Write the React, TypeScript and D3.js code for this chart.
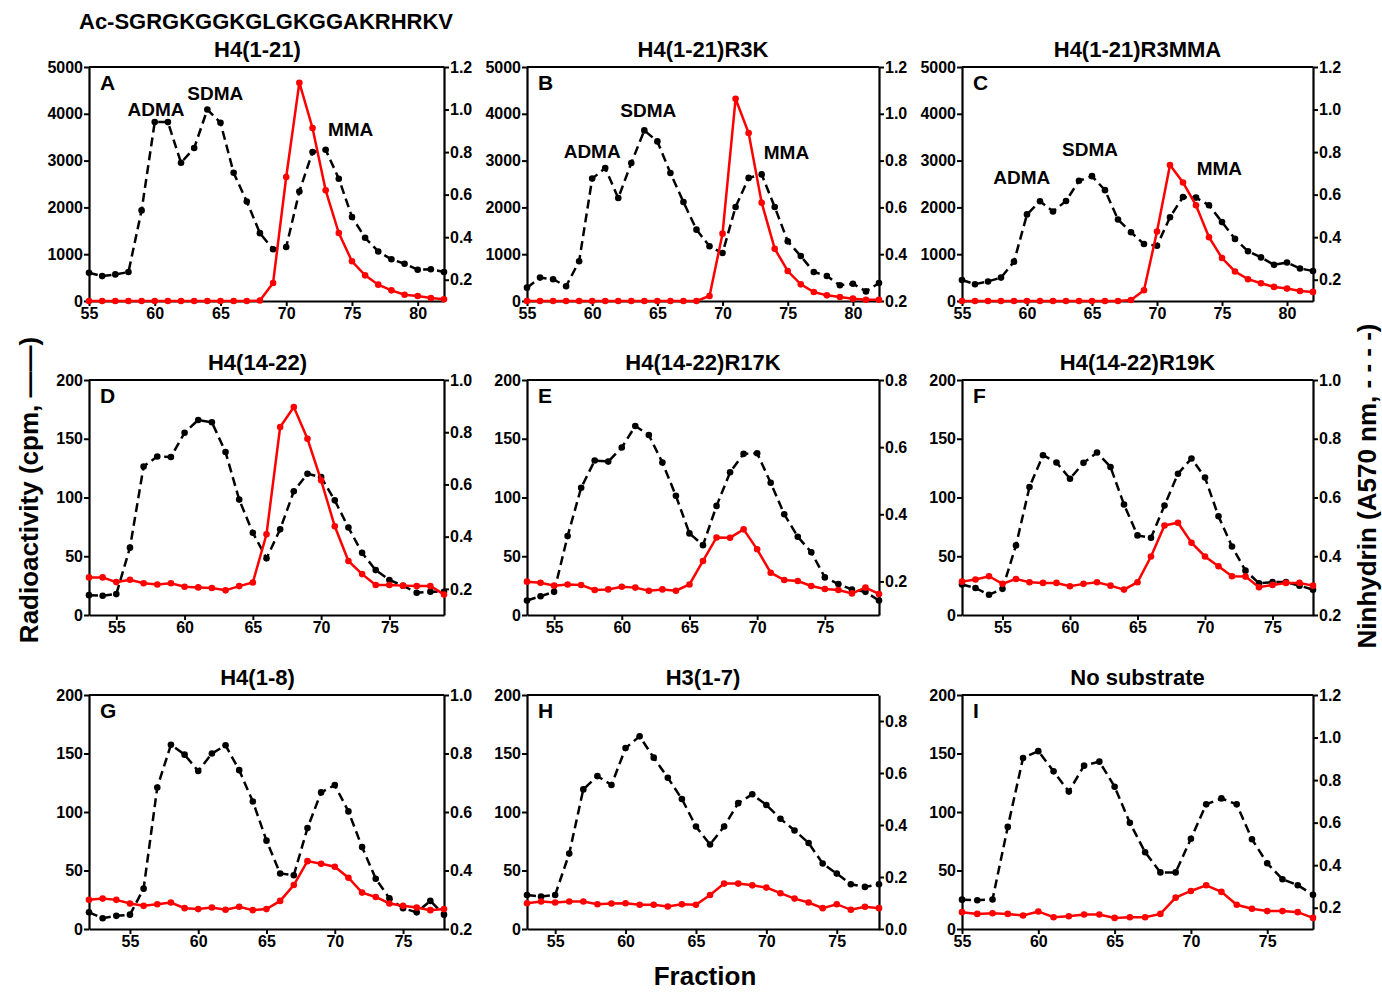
import React, { Component } from 'react';
import * as d3 from 'd3';

// fraction numbers (x)
const fractions55to82 = [55, 56, 57, 58, 59, 60, 61, 62, 63, 64, 65, 66, 67, 68, 69, 70, 71, 72, 73, 74, 75, 76, 77, 78, 79, 80, 81, 82];
const fractions53to79 = [53, 54, 55, 56, 57, 58, 59, 60, 61, 62, 63, 64, 65, 66, 67, 68, 69, 70, 71, 72, 73, 74, 75, 76, 77, 78, 79];
const fractions52to78 = [52, 53, 54, 55, 56, 57, 58, 59, 60, 61, 62, 63, 64, 65, 66, 67, 68, 69, 70, 71, 72, 73, 74, 75, 76, 77, 78];
const fractions53to78 = [53, 54, 55, 56, 57, 58, 59, 60, 61, 62, 63, 64, 65, 66, 67, 68, 69, 70, 71, 72, 73, 74, 75, 76, 77, 78];
const fractions55to78 = [55, 56, 57, 58, 59, 60, 61, 62, 63, 64, 65, 66, 67, 68, 69, 70, 71, 72, 73, 74, 75, 76, 77, 78];

// radioactivity (cpm, red solid) and ninhydrin (A570, black dashed)
const cpmA = [0, 0, 0, 0, 0, 0, 0, 0, 0, 0, 0, 0, 0, 10, 385, 2650, 4665, 3697, 2365, 1453, 848, 548, 349, 228, 135, 107, 64, 36];
const ninA = [0.233, 0.217, 0.225, 0.236, 0.526, 0.941, 0.941, 0.75, 0.819, 1.0, 0.938, 0.703, 0.568, 0.419, 0.343, 0.354, 0.615, 0.8, 0.811, 0.675, 0.495, 0.397, 0.333, 0.296, 0.275, 0.247, 0.249, 0.236];
const cpmB = [0, 0, 0, 0, 0, 0, 0, 0, 0, 0, 0, 0, 0, 0, 107, 1439, 4323, 3590, 2101, 1118, 641, 356, 192, 121, 85, 50, 28, 28];
const ninB = [0.257, 0.3, 0.293, 0.263, 0.37, 0.723, 0.768, 0.64, 0.79, 0.929, 0.882, 0.747, 0.623, 0.505, 0.434, 0.405, 0.602, 0.726, 0.741, 0.602, 0.455, 0.392, 0.324, 0.307, 0.267, 0.274, 0.241, 0.277];
const cpmC = [0, 0, 0, 0, 0, 0, 0, 0, 0, 0, 0, 0, 0, 20, 230, 1485, 2905, 2532, 2044, 1363, 918, 631, 466, 380, 301, 265, 215, 194];
const ninC = [0.199, 0.179, 0.192, 0.21, 0.285, 0.507, 0.569, 0.521, 0.57, 0.665, 0.687, 0.621, 0.483, 0.423, 0.368, 0.36, 0.494, 0.589, 0.586, 0.55, 0.471, 0.392, 0.334, 0.305, 0.27, 0.281, 0.253, 0.241];
const cpmD = [32, 32, 28, 30, 27, 26, 27, 24, 23.5, 23, 21, 24.6, 27.7, 68.7, 160, 177, 150, 114.6, 75.5, 46, 34.8, 25.5, 25.5, 25, 24.6, 24.6, 17.5];
const ninD = [0.176, 0.174, 0.18, 0.358, 0.669, 0.707, 0.705, 0.798, 0.847, 0.838, 0.724, 0.542, 0.415, 0.317, 0.428, 0.574, 0.641, 0.628, 0.539, 0.435, 0.338, 0.272, 0.234, 0.212, 0.185, 0.189, 0.189];
const cpmE = [28.4, 27.5, 25, 26, 25.5, 21.3, 21.8, 24.1, 23.3, 20.7, 21.8, 20.7, 26, 46, 66, 65.8, 72.9, 55.9, 36, 29.8, 28.9, 24.7, 22.1, 21.3, 18.4, 23.3, 17.9];
const ninE = [0.143, 0.156, 0.169, 0.335, 0.479, 0.56, 0.557, 0.599, 0.663, 0.636, 0.554, 0.455, 0.343, 0.308, 0.425, 0.525, 0.58, 0.582, 0.494, 0.4, 0.333, 0.287, 0.212, 0.192, 0.176, 0.169, 0.143];
const cpmF = [28.4, 30.2, 33, 26.5, 30.7, 27.9, 27.3, 27.3, 24.5, 26.5, 27.9, 25, 21.6, 27.9, 49.8, 76.2, 78.5, 61.5, 49.8, 41.5, 33, 32.7, 23.6, 25.6, 27.3, 27.3, 25];
const ninF = [0.304, 0.292, 0.269, 0.289, 0.437, 0.636, 0.744, 0.719, 0.664, 0.718, 0.753, 0.704, 0.576, 0.471, 0.463, 0.573, 0.681, 0.733, 0.668, 0.536, 0.433, 0.351, 0.308, 0.312, 0.312, 0.3, 0.286];
const cpmG = [24.9, 26, 24.9, 21.8, 19.8, 21.2, 22.6, 17.8, 17, 18.4, 16.4, 19, 16.1, 17, 24, 37.6, 58, 55.7, 53.2, 43.8, 31.1, 27.4, 21.8, 19.8, 18.4, 16.1, 17];
const ninG = [0.257, 0.237, 0.245, 0.249, 0.338, 0.684, 0.83, 0.796, 0.74, 0.8, 0.828, 0.743, 0.636, 0.502, 0.39, 0.384, 0.545, 0.667, 0.692, 0.602, 0.48, 0.372, 0.305, 0.271, 0.257, 0.296, 0.249];
const cpmH = [22, 23.5, 22.6, 23.5, 23.5, 21.2, 21.8, 22, 20.7, 20.7, 19.2, 21.2, 20.7, 29.1, 38.8, 38.8, 37.3, 35.4, 30.6, 26, 22.6, 17.8, 21.2, 16.4, 19, 17.8];
const ninH = [0.131, 0.125, 0.131, 0.29, 0.537, 0.588, 0.554, 0.696, 0.741, 0.659, 0.582, 0.5, 0.394, 0.325, 0.394, 0.484, 0.518, 0.477, 0.424, 0.379, 0.331, 0.252, 0.213, 0.172, 0.162, 0.172];
const cpmI = [14.4, 12.9, 13.5, 12.9, 11.5, 15, 10.1, 10.9, 12.4, 12.4, 9.5, 10.1, 10.1, 12.9, 26.8, 32.5, 37.4, 31.7, 20.7, 17.3, 15.3, 15.3, 14.4, 9.5];
const ninI = [0.238, 0.235, 0.239, 0.58, 0.904, 0.936, 0.841, 0.746, 0.868, 0.887, 0.769, 0.599, 0.461, 0.366, 0.366, 0.524, 0.686, 0.714, 0.686, 0.522, 0.409, 0.334, 0.306, 0.261];

// tick labels
const xTicks55to80 = [55, 60, 65, 70, 75, 80];
const xTicks55to75 = [55, 60, 65, 70, 75];
const cpmTicksHigh = [0, 1000, 2000, 3000, 4000, 5000];
const cpmTicksLow = [0, 50, 100, 150, 200];
const ninTicks02to12 = [0.2, 0.4, 0.6, 0.8, 1.0, 1.2];
const ninTicks02to10 = [0.2, 0.4, 0.6, 0.8, 1.0];
const ninTicks02to08 = [0.2, 0.4, 0.6, 0.8];
const ninTicks00to08 = [0.0, 0.2, 0.4, 0.6, 0.8];

const titles = ['H4(1-21)', 'H4(1-21)R3K', 'H4(1-21)R3MMA', 'H4(14-22)', 'H4(14-22)R17K', 'H4(14-22)R19K', 'H4(1-8)', 'H3(1-7)', 'No substrate'];
const letters = ['A', 'B', 'C', 'D', 'E', 'F', 'G', 'H', 'I'];

// peak labels (fraction, cpm)
const peaksA = [{ text: 'ADMA', fraction: 60.1, cpm: 3950 }, { text: 'SDMA', fraction: 64.6, cpm: 4300 }, { text: 'MMA', fraction: 74.9, cpm: 3520 }];
const peaksB = [{ text: 'ADMA', fraction: 60.0, cpm: 3050 }, { text: 'SDMA', fraction: 64.3, cpm: 3930 }, { text: 'MMA', fraction: 74.9, cpm: 3030 }];
const peaksC = [{ text: 'ADMA', fraction: 59.6, cpm: 2500 }, { text: 'SDMA', fraction: 64.85, cpm: 3100 }, { text: 'MMA', fraction: 74.8, cpm: 2690 }];

const panels = [
    { fractions: fractions55to82, cpm: cpmA, nin: ninA, xDomain: [55, 82], xTicks: xTicks55to80, cpmDomain: [0, 5000], cpmTicks: cpmTicksHigh, ninDomain: [0.1, 1.2], ninTicks: ninTicks02to12, peaks: peaksA },
    { fractions: fractions55to82, cpm: cpmB, nin: ninB, xDomain: [55, 82], xTicks: xTicks55to80, cpmDomain: [0, 5000], cpmTicks: cpmTicksHigh, ninDomain: [0.2, 1.2], ninTicks: ninTicks02to12, peaks: peaksB },
    { fractions: fractions55to82, cpm: cpmC, nin: ninC, xDomain: [55, 82], xTicks: xTicks55to80, cpmDomain: [0, 5000], cpmTicks: cpmTicksHigh, ninDomain: [0.1, 1.2], ninTicks: ninTicks02to12, peaks: peaksC },
    { fractions: fractions53to79, cpm: cpmD, nin: ninD, xDomain: [53, 79], xTicks: xTicks55to75, cpmDomain: [0, 200], cpmTicks: cpmTicksLow, ninDomain: [0.1, 1.0], ninTicks: ninTicks02to10, peaks: [] },
    { fractions: fractions53to79, cpm: cpmE, nin: ninE, xDomain: [53, 79], xTicks: xTicks55to75, cpmDomain: [0, 200], cpmTicks: cpmTicksLow, ninDomain: [0.1, 0.8], ninTicks: ninTicks02to08, peaks: [] },
    { fractions: fractions52to78, cpm: cpmF, nin: ninF, xDomain: [52, 78], xTicks: xTicks55to75, cpmDomain: [0, 200], cpmTicks: cpmTicksLow, ninDomain: [0.2, 1.0], ninTicks: ninTicks02to10, peaks: [] },
    { fractions: fractions52to78, cpm: cpmG, nin: ninG, xDomain: [52, 78], xTicks: xTicks55to75, cpmDomain: [0, 200], cpmTicks: cpmTicksLow, ninDomain: [0.2, 1.0], ninTicks: ninTicks02to10, peaks: [] },
    { fractions: fractions53to78, cpm: cpmH, nin: ninH, xDomain: [53, 78], xTicks: xTicks55to75, cpmDomain: [0, 200], cpmTicks: cpmTicksLow, ninDomain: [0.0, 0.9], ninTicks: ninTicks00to08, peaks: [] },
    { fractions: fractions55to78, cpm: cpmI, nin: ninI, xDomain: [55, 78], xTicks: xTicks55to75, cpmDomain: [0, 200], cpmTicks: cpmTicksLow, ninDomain: [0.1, 1.2], ninTicks: ninTicks02to12, peaks: [] },
];

// grid layout
const colLeft = [89, 527, 962];
const colWidth = [355, 352, 351];
const rowTop = [67, 380, 695];
const rowHeight = [234, 235, 234];
const titleShift = [-9, 0, 0];

const FONT = '"Liberation Sans", Arial, Helvetica, sans-serif';
const RED = '#ff0000';

class App extends Component {
    svgRef = React.createRef<SVGSVGElement>();

    componentDidMount() {
        const svg = d3.select(this.svgRef.current);
        svg.selectAll('*').remove();

        const bold = (sel: any, size: number) => sel
            .attr('font-family', FONT)
            .attr('font-weight', 'bold')
            .attr('font-size', size)
            .attr('fill', '#000');

        panels.forEach((p, i) => {
            const col = i % 3, row = Math.floor(i / 3);
            const w = colWidth[col], h = rowHeight[row];
            const g = svg.append('g')
                .attr('transform', 'translate(' + colLeft[col] + ',' + rowTop[row] + ')');

            const x = d3.scaleLinear().domain(p.xDomain).range([0, w]);
            const yL = d3.scaleLinear().domain(p.cpmDomain).range([h, 0]);
            const yR = d3.scaleLinear().domain(p.ninDomain).range([h, 0]);

            // axes
            const axL = g.append('g')
                .call(d3.axisLeft(yL).tickValues(p.cpmTicks).tickFormat(d3.format('d')).tickSize(5).tickPadding(1).tickSizeOuter(0));
            const axR = g.append('g')
                .attr('transform', 'translate(' + w + ',0)')
                .call(d3.axisRight(yR).tickValues(p.ninTicks).tickFormat(d3.format('.1f')).tickSize(5).tickPadding(1).tickSizeOuter(0));
            const axB = g.append('g')
                .attr('transform', 'translate(0,' + h + ')')
                .call(d3.axisBottom(x).tickValues(p.xTicks).tickSize(5).tickPadding(2).tickSizeOuter(0));
            [axL, axR, axB].forEach(a => {
                bold(a.selectAll('text'), 16);
                a.selectAll('line').attr('stroke', '#000').attr('stroke-width', 2);
                a.select('.domain').attr('stroke', '#000').attr('stroke-width', 2.2);
            });
            g.append('line')
                .attr('x1', 0).attr('x2', w).attr('y1', 0).attr('y2', 0)
                .attr('stroke', '#000').attr('stroke-width', 2.2);

            // ninhydrin, dashed black
            const ninLine = d3.line<number>()
                .x((d, j) => x(p.fractions[j]))
                .y(d => yR(d));
            g.append('path')
                .datum(p.nin)
                .attr('d', ninLine)
                .attr('fill', 'none')
                .attr('stroke', '#000')
                .attr('stroke-width', 2.5)
                .attr('stroke-dasharray', '9,5');
            g.selectAll('.ninDot')
                .data(p.nin)
                .enter()
                .append('circle')
                .attr('class', 'ninDot')
                .attr('cx', (d, j) => x(p.fractions[j]))
                .attr('cy', d => yR(d))
                .attr('r', 3.3)
                .attr('fill', '#000');

            // radioactivity, solid red
            const cpmLine = d3.line<number>()
                .x((d, j) => x(p.fractions[j]))
                .y(d => yL(d));
            g.append('path')
                .datum(p.cpm)
                .attr('d', cpmLine)
                .attr('fill', 'none')
                .attr('stroke', RED)
                .attr('stroke-width', 2.5);
            g.selectAll('.cpmDot')
                .data(p.cpm)
                .enter()
                .append('circle')
                .attr('class', 'cpmDot')
                .attr('cx', (d, j) => x(p.fractions[j]))
                .attr('cy', d => yL(d))
                .attr('r', 3.3)
                .attr('fill', RED);

            // peak names
            p.peaks.forEach(pk => {
                bold(g.append('text'), 19)
                    .attr('x', x(pk.fraction))
                    .attr('y', yL(pk.cpm))
                    .attr('text-anchor', 'middle')
                    .text(pk.text);
            });

            // panel letter and title
            bold(g.append('text'), 21)
                .attr('x', 11)
                .attr('y', 23)
                .text(letters[i]);
            bold(g.append('text'), 22)
                .attr('x', w / 2 + titleShift[col])
                .attr('y', -10)
                .attr('text-anchor', 'middle')
                .text(titles[i]);
        });

        // sequence header
        bold(svg.append('text'), 22)
            .attr('x', 79)
            .attr('y', 29)
            .text('Ac-SGRGKGGKGLGKGGAKRHRKV');

        // axis titles
        bold(svg.append('text'), 26)
            .attr('transform', 'translate(38,490) rotate(-90)')
            .attr('text-anchor', 'middle')
            .text('Radioactivity (cpm, \u2014\u2014)');
        bold(svg.append('text'), 26)
            .attr('transform', 'translate(1376,486) rotate(-90)')
            .attr('text-anchor', 'middle')
            .text('Ninhydrin (A570 nm, - - - -)');
        bold(svg.append('text'), 26)
            .attr('x', 705)
            .attr('y', 985)
            .attr('text-anchor', 'middle')
            .text('Fraction');
    }

    render() {
        return (
            <svg ref={this.svgRef}
                 width={1382}
                 height={992}
                 style={{ position: 'absolute', left: 0, top: 0, background: '#fff' }} />
        );
    }
}

export default App;
